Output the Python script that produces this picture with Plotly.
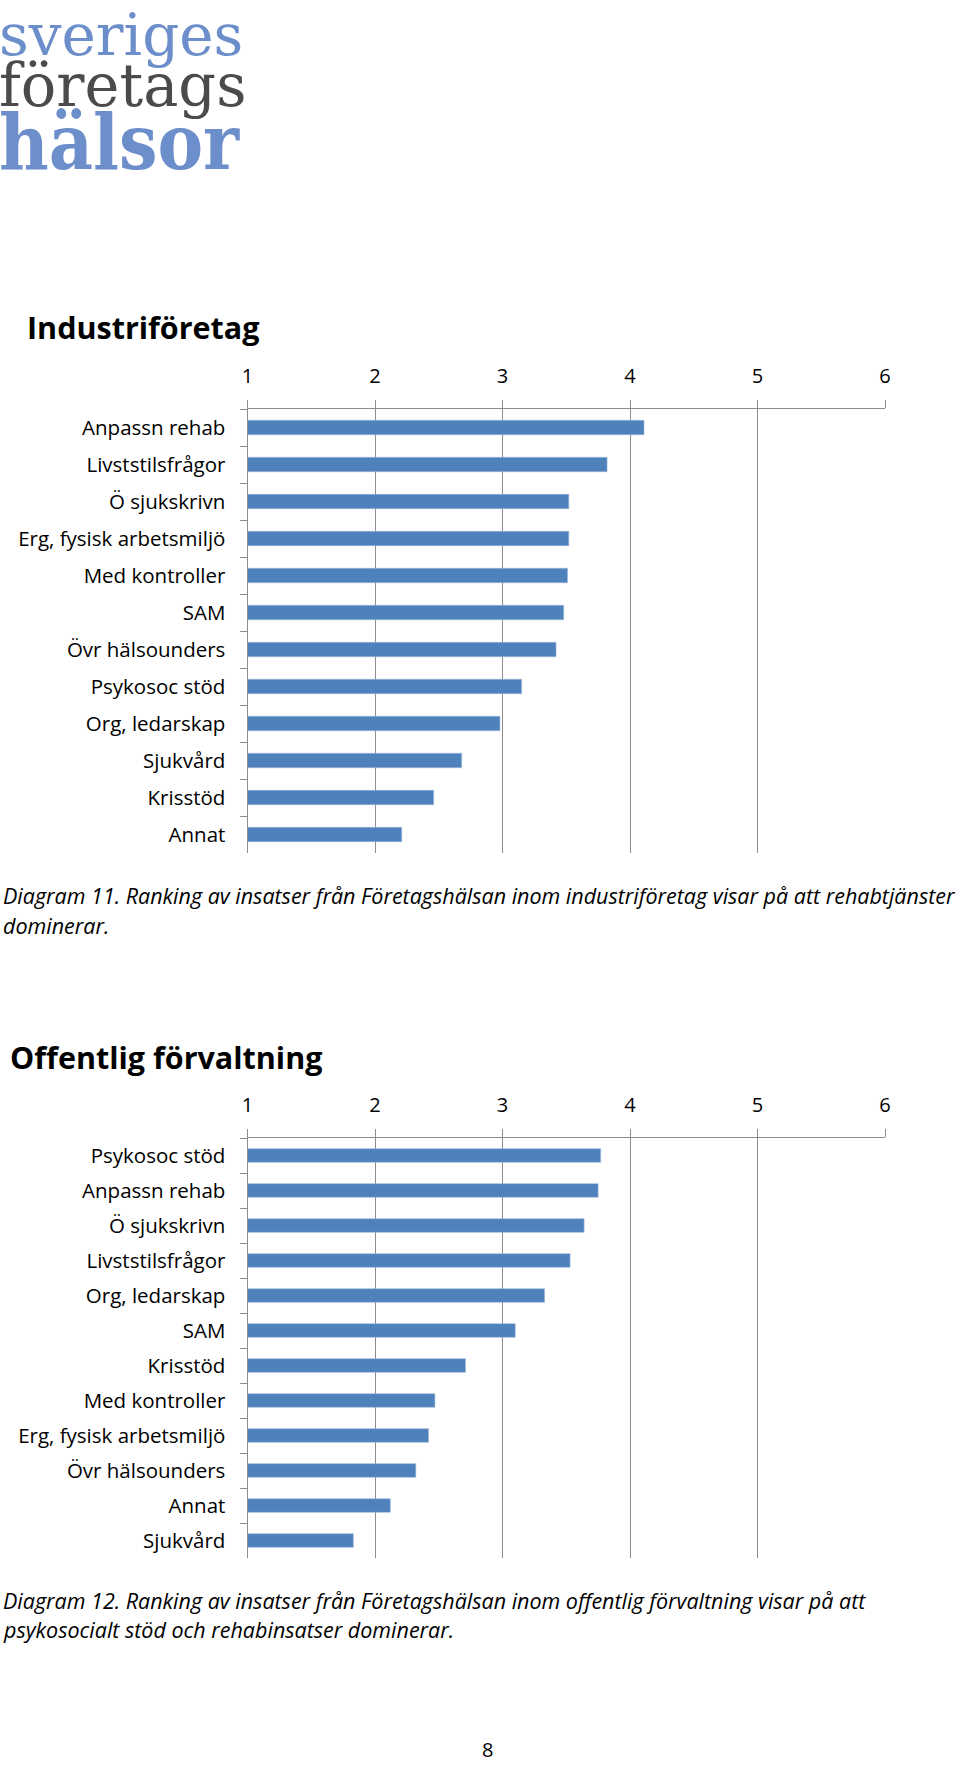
import plotly.graph_objects as go

# ---------------- data ----------------
ind_categories = ["Anpassn rehab", "Livststilsfrågor", "Ö sjukskrivn", "Erg, fysisk arbetsmiljö",
                  "Med kontroller", "SAM", "Övr hälsounders", "Psykosoc stöd", "Org, ledarskap",
                  "Sjukvård", "Krisstöd", "Annat"]
ind_values = [4.11, 3.82, 3.52, 3.52, 3.51, 3.48, 3.42, 3.15, 2.98, 2.68, 2.46, 2.21]

off_categories = ["Psykosoc stöd", "Anpassn rehab", "Ö sjukskrivn", "Livststilsfrågor",
                  "Org, ledarskap", "SAM", "Krisstöd", "Med kontroller", "Erg, fysisk arbetsmiljö",
                  "Övr hälsounders", "Annat", "Sjukvård"]
off_values = [3.77, 3.75, 3.64, 3.53, 3.33, 3.10, 2.71, 2.47, 2.42, 2.32, 2.12, 1.83]

tick_vals = [1, 2, 3, 4, 5, 6]
tick_text = ["1", "2", "3", "4", "5", "6"]

title1 = "Industriföretag"
title2 = "Offentlig förvaltning"
caption1 = ["Diagram 11. Ranking av insatser från Företagshälsan inom industriföretag visar på att rehabtjänster",
            "dominerar."]
caption2 = ["Diagram 12. Ranking av insatser från Företagshälsan inom offentlig förvaltning visar på att",
            "psykosocialt stöd och rehabinsatser dominerar."]
page_number = "8"

# ---------------- layout helpers ----------------
W, H = 960, 1766


def px(x):
    return x / W


def py(y):
    return 1 - y / H


BAR = "#4F81BD"
GRID = "#8c8c8c"
FONT = "Open Sans"
LOGO_FONT = "DejaVu Serif"
LOGO_FONT_BIG = "DejaVu Serif Condensed, DejaVu Serif"
BLUE_LOGO = "#6C8ECB"
GRAY_LOGO = "#4B4B4D"

fig = go.Figure()
fig.add_trace(go.Bar(y=ind_categories, x=ind_values, orientation="h",
                     marker=dict(color=BAR, line=dict(color="#9db8da", width=0.6)),
                     xaxis="x", yaxis="y", showlegend=False))
fig.add_trace(go.Bar(y=off_categories, x=off_values, orientation="h",
                     marker=dict(color=BAR, line=dict(color="#9db8da", width=0.6)),
                     xaxis="x2", yaxis="y2", showlegend=False))

xdom = [px(247.5), px(885)]


def xaxis(anchor):
    return dict(domain=xdom, anchor=anchor, side="top", range=[1, 6],
                tickmode="array", tickvals=tick_vals, ticktext=tick_text,
                showgrid=True, gridcolor=GRID, gridwidth=1,
                showline=True, linecolor=GRID, linewidth=1,
                ticks="outside", ticklen=8, tickcolor=GRID,
                ticklabelstandoff=9, automargin=False,
                tickfont=dict(family=FONT, size=20, color="#000000"),
                zeroline=False, fixedrange=True)


def yaxis(anchor, y0, y1):
    return dict(domain=[py(y1), py(y0)], anchor=anchor, autorange="reversed",
                type="category", showline=True, linecolor=GRID, linewidth=1,
                ticks="outside", ticklen=7, tickcolor=GRID, tickson="boundaries",
                ticklabelstandoff=17, automargin=False,
                tickfont=dict(family=FONT, size=20.5, color="#000000"),
                showgrid=False, zeroline=False, fixedrange=True)


annotations = []


def txt(text, x, y, size, color="#000000", family=FONT, xanchor="left"):
    annotations.append(dict(text=text, x=px(x), y=py(y), xref="paper", yref="paper",
                            xanchor=xanchor, yanchor="middle", showarrow=False,
                            font=dict(family=family, size=size, color=color)))


# logo
txt("sveriges", -3, 35, 58, BLUE_LOGO, LOGO_FONT)
txt("företags", -3, 85, 59, GRAY_LOGO, LOGO_FONT)
txt("<b>hälsor</b>", -3, 142, 76, BLUE_LOGO, LOGO_FONT_BIG)

# titles
txt("<b>" + title1 + "</b>", 25, 327, 30.5)
txt("<b>" + title2 + "</b>", 8, 1057, 30.5)

# captions
txt("<i>" + caption1[0] + "</i>", 1, 896, 21.5)
txt("<i>" + caption1[1] + "</i>", 1, 925, 21.5)
txt("<i>" + caption2[0] + "</i>", 1, 1600, 21.5)
txt("<i>" + caption2[1] + "</i>", 1, 1629, 21.5)

# page number
txt(page_number, 487, 1749, 20, xanchor="center")

fig.update_layout(
    width=W, height=H,
    margin=dict(l=0, r=0, t=0, b=0),
    paper_bgcolor="white", plot_bgcolor="white",
    bargap=0.61,
    xaxis=xaxis("y"),
    yaxis=yaxis("x", 409, 853),
    xaxis2=xaxis("y2"),
    yaxis2=yaxis("x2", 1138, 1558),
    annotations=annotations,
    font=dict(family=FONT),
)

fig.write_html("out.html", config={"displayModeBar": False},
               post_script="document.body.style.margin='0';")
